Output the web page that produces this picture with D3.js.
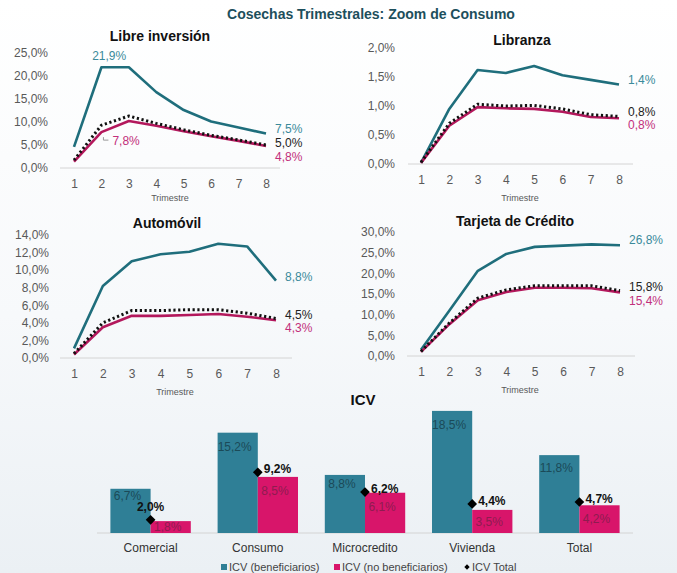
<!DOCTYPE html>
<html>
<head>
<meta charset="utf-8">
<script src="https://cdn.jsdelivr.net/npm/d3@7"></script>
<style>
  html, body { margin: 0; padding: 0; background: #fff; }
  svg { display: block; font-family: "Liberation Sans", Arial, sans-serif; }
</style>
</head>
<body>
<svg id="chart" width="677" height="573"></svg>
<script>
// ---- Data -------------------------------------------------------------
const quarters = [1, 2, 3, 4, 5, 6, 7, 8];

const libreBenef   = [4.6, 21.9, 21.9, 16.5, 12.6, 10.1, 8.8, 7.5];
const libreNoBenef = [1.4, 7.8, 10.2, 9.2, 8.0, 6.9, 5.9, 4.8];
const libreTotal   = [1.7, 9.3, 11.3, 9.7, 8.3, 7.1, 6.1, 5.0];

const libranzaBenef   = [0.02, 0.95, 1.62, 1.57, 1.69, 1.53, 1.45, 1.37];
const libranzaNoBenef = [0.02, 0.66, 0.98, 0.96, 0.95, 0.90, 0.81, 0.79];
const libranzaTotal   = [0.03, 0.70, 1.03, 1.00, 1.01, 0.95, 0.85, 0.82];

const autoBenef   = [1.1, 8.2, 11.0, 11.8, 12.1, 13.0, 12.7, 8.8];
const autoNoBenef = [0.4, 3.5, 4.8, 4.8, 4.9, 5.0, 4.7, 4.3];
const autoTotal   = [0.5, 4.0, 5.4, 5.4, 5.5, 5.5, 5.1, 4.5];

const tarjetaBenef   = [1.5, 11.0, 20.6, 24.7, 26.4, 26.7, 27.0, 26.8];
const tarjetaNoBenef = [1.0, 7.7, 13.5, 15.5, 16.5, 16.5, 16.4, 15.4];
const tarjetaTotal   = [1.1, 8.0, 14.0, 16.0, 17.0, 17.0, 17.0, 15.8];

const icvCategories = ["Comercial", "Consumo", "Microcredito", "Vivienda", "Total"];
const icvBenef   = [6.7, 15.2, 8.8, 18.5, 11.8];
const icvNoBenef = [1.8, 8.5, 6.1, 3.5, 4.2];
const icvTotal   = [2.0, 9.2, 6.2, 4.4, 4.7];

const legendLabels = ["ICV (beneficiarios)", "ICV (no beneficiarios)", "ICV Total"];

// ---- Styles -----------------------------------------------------------
const C = {
  teal: "#1f6e7c", tealText: "#3b8a9b",
  magenta: "#b3185c", magentaText: "#c2307c",
  black: "#111",
  barBlue: "#2f7f96", barPink: "#d8156a",
  barBlueText: "#1b4a58", barPinkText: "#8e1c50",
  axis: "#d4d4d4", tick: "#595959", title: "#1d4f5c"
};

const pct = v => v.toFixed(1).replace(".", ",") + "%";

const svg = d3.select("#chart");

// background: soft vertical wash
const defs = svg.append("defs");
const grad = defs.append("linearGradient").attr("id", "bg").attr("x1", 0).attr("y1", 0).attr("x2", 0).attr("y2", 1);
grad.append("stop").attr("offset", "0%").attr("stop-color", "#ffffff");
grad.append("stop").attr("offset", "55%").attr("stop-color", "#f7f9fb");
grad.append("stop").attr("offset", "100%").attr("stop-color", "#ebf0f4");
svg.append("rect").attr("width", 677).attr("height", 573).attr("fill", "url(#bg)");

svg.append("text")
  .attr("x", 371).attr("y", 19).attr("text-anchor", "middle")
  .attr("font-size", 14).attr("font-weight", "bold").attr("fill", C.title)
  .text("Cosechas Trimestrales: Zoom de Consumo");

// ---- Line panels ------------------------------------------------------
// endDy: vertical nudges for the end labels [beneficiarios, total, no beneficiarios]
const panels = [
  { title: "Libre inversión", tx: 160, ty: 41,
    benef: libreBenef, noBenef: libreNoBenef, total: libreTotal,
    yMax: 25, yStep: 5, x1: 74, x8: 266, y0: 168, yTop: 53,
    axisL: 60, axisR: 280, labR: 48, trimY: 201, trimX: 170,
    endDy: [-5, -2, 11] },
  { title: "Libranza", tx: 522, ty: 45,
    benef: libranzaBenef, noBenef: libranzaNoBenef, total: libranzaTotal,
    yMax: 2, yStep: 0.5, x1: 421, x8: 619, y0: 164, yTop: 48,
    axisL: 408, axisR: 633, labR: 395, trimY: 201, trimX: 520,
    endDy: [-5, -5, 7] },
  { title: "Automóvil", tx: 167, ty: 228,
    benef: autoBenef, noBenef: autoNoBenef, total: autoTotal,
    yMax: 14, yStep: 2, x1: 74, x8: 276, y0: 358, yTop: 235,
    axisL: 60, axisR: 292, labR: 49, trimY: 395, trimX: 175,
    endDy: [-4, -4, 8] },
  { title: "Tarjeta de Crédito", tx: 515, ty: 226,
    benef: tarjetaBenef, noBenef: tarjetaNoBenef, total: tarjetaTotal,
    yMax: 30, yStep: 5, x1: 421, x8: 620, y0: 356, yTop: 232,
    axisL: 407, axisR: 635, labR: 395, trimY: 393, trimX: 520,
    endDy: [-5, -4, 8] }
];

panels.forEach((p, pi) => {
  const g = svg.append("g");
  const x = d3.scaleLinear().domain([1, 8]).range([p.x1, p.x8]);
  const y = d3.scaleLinear().domain([0, p.yMax]).range([p.y0, p.yTop]);

  g.append("text").attr("x", p.tx).attr("y", p.ty).attr("text-anchor", "middle")
    .attr("font-size", 14).attr("font-weight", "bold").attr("fill", "#111").text(p.title);

  // y axis labels (no axis line)
  const yTicks = d3.range(0, p.yMax + p.yStep / 2, p.yStep);
  const yAxis = d3.axisLeft(y).tickValues(yTicks).tickSize(0).tickPadding(0).tickFormat(pct);
  const ya = g.append("g").attr("transform", `translate(${p.labR},0)`).call(yAxis);
  ya.select(".domain").remove();
  ya.selectAll("text").attr("font-size", 12).attr("fill", C.tick).attr("font-family", "Liberation Sans, Arial, sans-serif");

  // baseline
  g.append("line").attr("x1", p.axisL).attr("x2", p.axisR).attr("y1", y(0)).attr("y2", y(0))
    .attr("stroke", C.axis).attr("stroke-width", 1);

  // x axis labels
  const xAxis = d3.axisBottom(x).tickValues(quarters).tickSize(0).tickPadding(0).tickFormat(d3.format("d"));
  const xa = g.append("g").attr("transform", `translate(0,${p.y0 + 11})`).call(xAxis);
  xa.select(".domain").remove();
  xa.selectAll("text").attr("font-size", 12).attr("fill", C.tick).attr("font-family", "Liberation Sans, Arial, sans-serif");

  g.append("text").attr("x", p.trimX).attr("y", p.trimY).attr("text-anchor", "middle")
    .attr("font-size", 9).attr("fill", C.tick).text("Trimestre");

  const line = d3.line().x((d, i) => x(quarters[i])).y(d => y(d));
  g.append("path").datum(p.benef).attr("d", line).attr("fill", "none")
    .attr("stroke", C.teal).attr("stroke-width", 2.6).attr("stroke-linejoin", "round");
  g.append("path").datum(p.noBenef).attr("d", line).attr("fill", "none")
    .attr("stroke", C.magenta).attr("stroke-width", 2.6).attr("stroke-linejoin", "round");
  g.append("path").datum(p.total).attr("d", line).attr("fill", "none")
    .attr("stroke", C.black).attr("stroke-width", 3).attr("stroke-dasharray", "2.2,2.6");

  // end-of-series value labels
  const last = quarters.length - 1;
  const ends = [[p.benef, C.tealText], [p.total, "#222"], [p.noBenef, C.magentaText]];
  ends.forEach(([s, col], k) => {
    g.append("text").attr("x", x(8) + 9).attr("y", y(s[last]) + p.endDy[k])
      .attr("dy", "0.35em").attr("font-size", 12).attr("fill", col).text(pct(s[last]));
  });

  if (pi === 0) {
    // peak and early-quarter callouts
    g.append("text").attr("x", (x(2) + x(3)) / 2 - 6).attr("y", y(p.benef[1]) - 11)
      .attr("dy", "0.35em").attr("text-anchor", "middle").attr("font-size", 12)
      .attr("fill", C.tealText).text(pct(p.benef[1]));
    const px = x(2), py = y(p.noBenef[1]);
    g.append("path").attr("d", `M${px + 2},${py + 5}V${py + 8}H${px + 7}`)
      .attr("fill", "none").attr("stroke", "#999").attr("stroke-width", 1);
    g.append("text").attr("x", px + 11).attr("y", py + 9).attr("dy", "0.35em")
      .attr("font-size", 12).attr("fill", C.magentaText).text(pct(p.noBenef[1]));
  }
});

// ---- ICV bar chart ----------------------------------------------------
const bg = svg.append("g");
bg.append("text").attr("x", 363).attr("y", 405).attr("text-anchor", "middle")
  .attr("font-size", 15).attr("font-weight", "bold").attr("fill", "#111").text("ICV");

const bx = d3.scaleBand().domain(icvCategories).range([97, 633]).paddingInner(0.25).paddingOuter(0.125);
const sub = d3.scaleBand().domain(["b", "n"]).range([0, bx.bandwidth()]);
const by = d3.scaleLinear().domain([0, 20]).range([533, 401]);

bg.append("line").attr("x1", 97).attr("x2", 633).attr("y1", by(0)).attr("y2", by(0))
  .attr("stroke", C.axis).attr("stroke-width", 1.2);

// label centre inside the bar, close to its top
const labelInside = (v, k) => {
  const top = by(v), h = by(0) - by(v);
  return k === "b" ? top + Math.min(14, h * 0.16) : top + Math.min(14, h / 2);
};

icvCategories.forEach((cat, i) => {
  const x0 = bx(cat);
  const pairs = [["b", icvBenef[i], C.barBlue, C.barBlueText], ["n", icvNoBenef[i], C.barPink, C.barPinkText]];
  pairs.forEach(([k, v, fill, tcol]) => {
    bg.append("rect").attr("x", x0 + sub(k)).attr("y", by(v))
      .attr("width", sub.bandwidth()).attr("height", by(0) - by(v)).attr("fill", fill);
    bg.append("text").attr("x", x0 + sub(k) + sub.bandwidth() / 2 - 3).attr("y", labelInside(v, k))
      .attr("dy", "0.35em").attr("text-anchor", "middle").attr("font-size", 12)
      .attr("fill", tcol).text(pct(v));
  });

  const cx = x0 + bx.bandwidth() / 2, cy = by(icvTotal[i]);
  bg.append("path").attr("transform", `translate(${cx},${cy})`)
    .attr("d", d3.symbol(d3.symbolDiamond2, 60)()).attr("fill", "#000");
  const lbl = bg.append("text").attr("font-size", 12).attr("font-weight", "bold").attr("fill", "#111")
    .attr("dy", "0.35em").text(pct(icvTotal[i]));
  if (i === 0) lbl.attr("x", cx).attr("y", cy - 13).attr("text-anchor", "middle");
  else lbl.attr("x", cx + 6).attr("y", cy - 3).attr("text-anchor", "start");

  bg.append("text").attr("x", cx).attr("y", 548).attr("dy", "0.35em").attr("text-anchor", "middle")
    .attr("font-size", 12).attr("fill", "#333").text(cat);
});

// legend
const legendX = [221, 334, 464];
const legendMarks = [C.barBlue, C.barPink, null];
legendLabels.forEach((t, i) => {
  const lg = bg.append("g").attr("transform", `translate(${legendX[i]},567)`);
  if (legendMarks[i]) lg.append("rect").attr("x", 0).attr("y", -3).attr("width", 6).attr("height", 6).attr("fill", legendMarks[i]);
  else lg.append("path").attr("transform", "translate(3,0)").attr("d", d3.symbol(d3.symbolDiamond2, 18)()).attr("fill", "#000");
  lg.append("text").attr("x", 8).attr("y", 0).attr("dy", "0.35em").attr("font-size", 11)
    .attr("fill", "#444").text(t);
});
</script>
</body>
</html>
